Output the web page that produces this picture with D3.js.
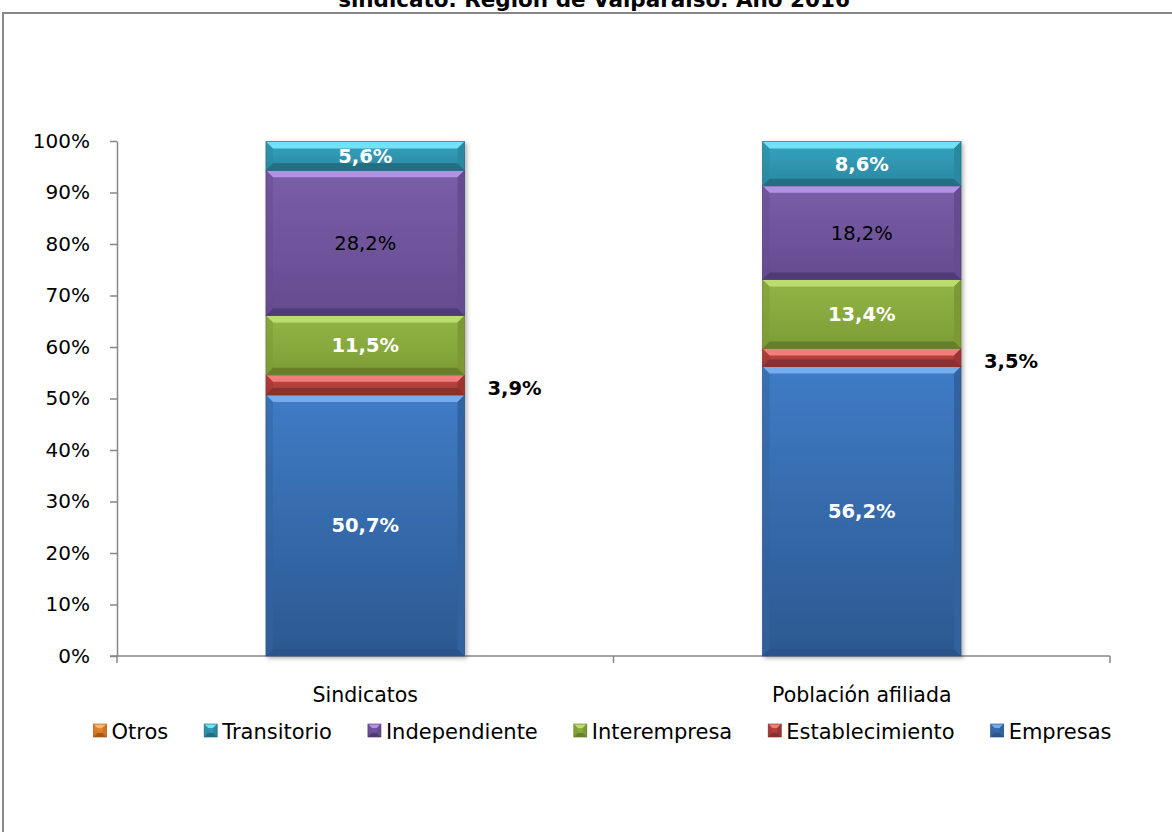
<!DOCTYPE html>
<html><head><meta charset="utf-8">
<script src="https://cdn.jsdelivr.net/npm/d3@7"></script>
<style>body{margin:0;background:#fff}svg{display:block}text{font-family:"DejaVu Sans","Liberation Sans",sans-serif}</style>
</head><body><svg id="c" width="1172" height="832"></svg>
<script>
const categories = ["Sindicatos", "Población afiliada"];
const seriesNames = ["Empresas", "Establecimiento", "Interempresa", "Independiente", "Transitorio", "Otros"];
const empresas = [50.7, 56.2];
const establecimiento = [3.9, 3.5];
const interempresa = [11.5, 13.4];
const independiente = [28.2, 18.2];
const transitorio = [5.6, 8.6];
const otros = [0.1, 0.1];
const yTicks = [0, 10, 20, 30, 40, 50, 60, 70, 80, 90, 100];
const titleText = "sindicato. Región de Valparaíso. Año 2016";

(function(){
const values = [empresas, establecimiento, interempresa, independiente, transitorio, otros];
const palette = {
  Empresas:        {hi:"#3f7cc6", lo:"#2c5890", tp:"#74acee", bt:"#2a538a", side:"#33639f"},
  Establecimiento: {hi:"#c44845", lo:"#a33835", tp:"#f27d7a", bt:"#86302d", side:"#9c3532"},
  Interempresa:    {hi:"#93b646", lo:"#7c9c35", tp:"#bddc70", bt:"#667f2a", side:"#7b9936"},
  Independiente:   {hi:"#7a5ea9", lo:"#654b8f", tp:"#b690e2", bt:"#503a74", side:"#654c8f"},
  Transitorio:     {hi:"#36a4c0", lo:"#2a87a0", tp:"#72e2f6", bt:"#226e83", side:"#2c88a0"},
  Otros:           {hi:"#f08f38", lo:"#d07828", tp:"#fbb672", bt:"#a85a14", side:"#cf7424"}
};
const labelStyle = {Empresas:"w", Establecimiento:"out", Interempresa:"w", Independiente:"k", Transitorio:"w", Otros:"none"};
const fmt = v => d3.format(".1f")(v).replace(".", ",") + "%";

const svg = d3.select("#c");
const defs = svg.append("defs");
const f = defs.append("filter").attr("id","sh").attr("x","-10%").attr("y","-10%").attr("width","130%").attr("height","130%");
f.append("feDropShadow").attr("dx",2).attr("dy",2).attr("stdDeviation",2.2).attr("flood-color","#000").attr("flood-opacity",0.3);
seriesNames.forEach((s,i)=>{
  const g = defs.append("linearGradient").attr("id","g"+i).attr("x1",0).attr("y1",0).attr("x2",0).attr("y2",1);
  g.append("stop").attr("offset","0%").attr("stop-color",palette[s].hi);
  g.append("stop").attr("offset","100%").attr("stop-color",palette[s].lo);
});

svg.append("rect").attr("x",3).attr("y",13).attr("width",1300).attr("height",1000)
  .attr("fill","none").attr("stroke","#878787").attr("stroke-width",2);

const title = svg.append("text").attr("x",594).attr("y",7).attr("text-anchor","middle")
  .attr("font-size",20).attr("font-weight","bold").attr("fill","#000").text(titleText);
const tl = title.node().getComputedTextLength();
title.attr("font-size", 20 * 512 / tl);

const pl = 117, pr = 1110, pt = 141, pb = 656;
const x = d3.scaleBand().domain(categories).range([pl, pr]).paddingInner(0).paddingOuter(0);
const y = d3.scaleLinear().domain([0, 100]).range([pb, pt]);
const barW = x.bandwidth() * 0.4;

const yAxis = svg.append("g").attr("transform",`translate(${pl},0)`)
  .call(d3.axisLeft(y).tickValues(yTicks).tickSize(7).tickSizeOuter(0).tickFormat(d=>d+"%"));
yAxis.select(".domain").attr("stroke","#878787").attr("stroke-width",1.5);
yAxis.selectAll(".tick line").attr("stroke","#878787").attr("stroke-width",1.5);
yAxis.selectAll(".tick text").attr("font-size",20).attr("fill","#000").attr("x",-27).attr("font-family","DejaVu Sans");

const xAxisG = svg.append("g").attr("transform",`translate(0,${pb})`);
xAxisG.append("line").attr("x1",pl-7).attr("x2",pr).attr("stroke","#878787").attr("stroke-width",1.5);
const bounds = [pl, ...categories.map(c=>x(c)+x.bandwidth())];
xAxisG.selectAll("line.t").data(bounds).join("line").attr("class","t")
  .attr("x1",d=>d).attr("x2",d=>d).attr("y1",0).attr("y2",7).attr("stroke","#878787").attr("stroke-width",1.5);
xAxisG.selectAll("text").data(categories).join("text")
  .attr("x",d=>x(d)+x.bandwidth()/2).attr("y",46).attr("text-anchor","middle")
  .attr("font-size",20.5).attr("fill","#000").text(d=>d);

const rows = categories.map((c,ci)=>{const o={cat:c}; seriesNames.forEach((s,si)=>o[s]=values[si][ci]); return o;});
const stack = d3.stack().keys(seriesNames)(rows);

function bevel(g, x0, y0, w, h, p, gi, bmax){
  const b = Math.min(bmax || 7, h/2.2);
  g.append("rect").attr("x",x0).attr("y",y0).attr("width",w).attr("height",h).attr("fill",`url(#g${gi})`);
  const x1 = x0+w, y1 = y0+h;
  const poly = (pts, fill) => g.append("polygon").attr("points", pts.map(q=>q.join(",")).join(" ")).attr("fill", fill);
  poly([[x0,y0],[x1,y0],[x1-b,y0+b],[x0+b,y0+b]], p.tp);
  poly([[x0,y1],[x1,y1],[x1-b,y1-b],[x0+b,y1-b]], p.bt);
  poly([[x0,y0],[x0+b,y0+b],[x0+b,y1-b],[x0,y1]], p.side).attr("opacity",0.5);
  poly([[x1,y0],[x1-b,y0+b],[x1-b,y1-b],[x1,y1]], p.side);
  g.append("rect").attr("x",x0).attr("y",y0).attr("width",w).attr("height",h)
    .attr("fill","none").attr("stroke",p.bt).attr("stroke-width",0.8).attr("stroke-opacity",0.8);
}

const barsG = svg.append("g").attr("filter","url(#sh)");
stack.forEach((layer, si)=>{
  const s = seriesNames[si];
  layer.forEach((d, ci)=>{
    const cx = x(categories[ci]) + x.bandwidth()/2;
    const y0 = y(d[1]), h = y(d[0]) - y(d[1]);
    if (h < 1) return;
    bevel(barsG.append("g"), cx - barW/2, y0, barW, h, palette[s], si);
  });
});

const labG = svg.append("g");
stack.forEach((layer, si)=>{
  const s = seriesNames[si];
  const st = labelStyle[s];
  if (st === "none") return;
  layer.forEach((d, ci)=>{
    const cx = x(categories[ci]) + x.bandwidth()/2;
    const my = y((d[0]+d[1])/2);
    const t = labG.append("text").attr("text-anchor","middle").attr("dy","0.36em")
      .attr("font-size",19.5).text(fmt(values[si][ci]));
    if (st === "out") {
      t.attr("x", cx + barW/2 + 50).attr("y", my + 3).attr("font-weight","bold").attr("fill","#000");
    } else {
      t.attr("x", cx).attr("y", my).attr("font-weight", st==="w" ? "bold" : "normal")
        .attr("fill", st==="w" ? "#fff" : "#000");
    }
  });
});

const legendOrder = seriesNames.slice().reverse();
const leg = svg.append("g");
const items = [];
legendOrder.forEach(s=>{
  const gi = seriesNames.indexOf(s);
  const g = leg.append("g");
  bevel(g, 0, -7, 13, 13, palette[s], gi, 4);
  const t = g.append("text").attr("x",18).attr("y",0).attr("dy","0.36em").attr("font-size",21).attr("fill","#000").text(s);
  const w = 18 + t.node().getComputedTextLength();
  items.push({g, w});
});
const gap = 36;
const total = d3.sum(items, d=>d.w) + gap*(items.length-1);
let lx = 602.5 - total/2;
items.forEach(it=>{ it.g.attr("transform",`translate(${lx},731)`); lx += it.w + gap; });
})();
</script></body></html>
